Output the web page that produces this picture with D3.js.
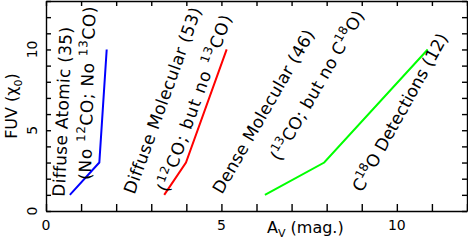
<!DOCTYPE html>
<html>
<head>
<meta charset="utf-8">
<script src="https://cdn.jsdelivr.net/npm/d3@7"></script>
<style>
	body { margin: 0; background: #fff; }
	svg { display: block; font-family: "DejaVu Sans", sans-serif; }
</style>
</head>
<body>
<div id="graphContainer"></div>
<script>
// values
var fuvLevels = [1, 3, 10];
var avDiffuseAtomic = [0.68, 1.52, 1.73];
var avDiffuseMolecular = [3.37, 3.99, 5.15];
var avDenseMolecular = [6.24, 7.93, 10.88];
var lineColors = ["#0000ff", "#ff0000", "#00ff00"];

var xTickLabels = [0, 5, 10];
var yTickLabels = [0, 5, 10];

// ^{..} = superscript
var labelTexts = [
	"Diffuse Atomic (35)",
	"(No ^{12}CO; No ^{13}CO)",
	"Diffuse Molecular (53)",
	"(^{12}CO; but no ^{13}CO)",
	"Dense Molecular (46)",
	"(^{13}CO; but no C^{18}O)",
	"C^{18}O Detections (12)"
];

window.onload = function()
{
	DrawChart();
}

function DrawChart()
{
	var width = 468, height = 240;
	var left = 46, right = 467, top = 1, bottom = 211;

	var svg = d3.select("#graphContainer").append("svg")
		.attr("width", width)
		.attr("height", height);

	var x = d3.scaleLinear().domain([0, 12]).range([left, right]);
	var y = d3.scaleLinear().domain([0, 13]).range([bottom, top]);

	/* frame with inward ticks on every side */
	var xTicks = d3.range(0, 13);
	var yTicks = d3.range(0, 14);

	svg.append("g")
		.attr("transform", `translate(0, ${bottom})`)
		.call(d3.axisBottom(x).tickValues(xTicks).tickSizeInner(-7).tickSizeOuter(0).tickFormat(""));
	svg.append("g")
		.attr("transform", `translate(0, ${top})`)
		.call(d3.axisTop(x).tickValues(xTicks).tickSizeInner(-5).tickSizeOuter(0).tickFormat(""));
	svg.append("g")
		.attr("transform", `translate(${left}, 0)`)
		.call(d3.axisLeft(y).tickValues(yTicks).tickSizeInner(-5).tickSizeOuter(0).tickFormat(""));
	svg.append("g")
		.attr("transform", `translate(${right}, 0)`)
		.call(d3.axisRight(y).tickValues(yTicks).tickSizeInner(-5).tickSizeOuter(0).tickFormat(""));

	svg.selectAll(".domain, .tick line")
		.attr("stroke", "#000")
		.attr("stroke-width", 1.4);

	/* tick labels */
	svg.selectAll(".xlab")
		.data(xTickLabels).enter()
		.append("text")
		.attr("x", d => x(d))
		.attr("y", 230)
		.attr("text-anchor", "middle")
		.attr("font-size", 14)
		.text(d => d);

	svg.selectAll(".ylab")
		.data(yTickLabels).enter()
		.append("text")
		.attr("transform", d => `translate(37, ${y(d)}) rotate(-90)`)
		.attr("text-anchor", "middle")
		.attr("font-size", 14)
		.text(d => d);

	/* axis titles */
	var xt = svg.append("text")
		.attr("x", 267)
		.attr("y", 233)
		.attr("font-size", 16);
	xt.append("tspan").text("A");
	xt.append("tspan").attr("dy", 4).attr("font-size", 11).text("V");
	xt.append("tspan").attr("dy", -4).text(" (mag.)");

	var yt = svg.append("text")
		.attr("transform", `translate(17, ${(top + bottom) / 2}) rotate(-90)`)
		.attr("text-anchor", "middle")
		.attr("font-size", 16);
	yt.append("tspan").text("FUV (\u03c7");
	yt.append("tspan").attr("dy", 5).attr("font-size", 11).text("0");
	yt.append("tspan").attr("dy", -5).text(")");

	/* lines */
	var series = [avDiffuseAtomic, avDiffuseMolecular, avDenseMolecular];
	var line = d3.line()
		.x(d => x(d[0]))
		.y(d => y(d[1]));

	svg.selectAll(".line")
		.data(series).enter()
		.append("path")
		.attr("class", "line")
		.attr("d", d => line(d.map((v, i) => [v, fuvLevels[i]])))
		.attr("fill", "none")
		.attr("stroke", (d, i) => lineColors[i])
		.attr("stroke-width", 2);

	/* rotated labels: anchor in data units, angle in degrees, length in px */
	var labelPlaces = [
		{ ax: 0.53, ay: 0.87, angle: -87.5, len: 170 },
		{ ax: 1.28, ay: 1.92, angle: -88.5, len: 174 },
		{ ax: 2.52, ay: 0.99, angle: -70, len: 197 },
		{ ax: 3.48, ay: 1.11, angle: -70, len: 188 },
		{ ax: 5.02, ay: 0.99, angle: -60, len: 186 },
		{ ax: 6.67, ay: 3.03, angle: -60, len: 170 },
		{ ax: 9.01, ay: 1.11, angle: -61, len: 178 }
	];

	labelTexts.forEach(function(str, i) {
		var p = labelPlaces[i];
		var t = svg.append("text")
			.attr("transform", `translate(${x(p.ax)}, ${y(p.ay)}) rotate(${p.angle})`)
			.attr("font-size", 17);
		var parts = str.split(/(\^\{[^}]*\})/);
		var raised = false;
		var nChars = 0;
		parts.forEach(function(part) {
			if (part === "") return;
			var sup = part.charAt(0) === "^";
			var ts = t.append("tspan");
			if (sup) {
				ts.attr("dy", -7).attr("font-size", 12).text(part.slice(2, -1));
				raised = true;
				nChars += part.length - 3;
			} else {
				if (raised) ts.attr("dy", 7);
				raised = false;
				ts.text(part);
				nChars += part.length;
			}
		});
		// stretch letter spacing to match the wider lettering of the original
		var natural = t.node().getComputedTextLength();
		t.attr("letter-spacing", (p.len - natural) / nChars);
	});
}
</script>
</body>
</html>
